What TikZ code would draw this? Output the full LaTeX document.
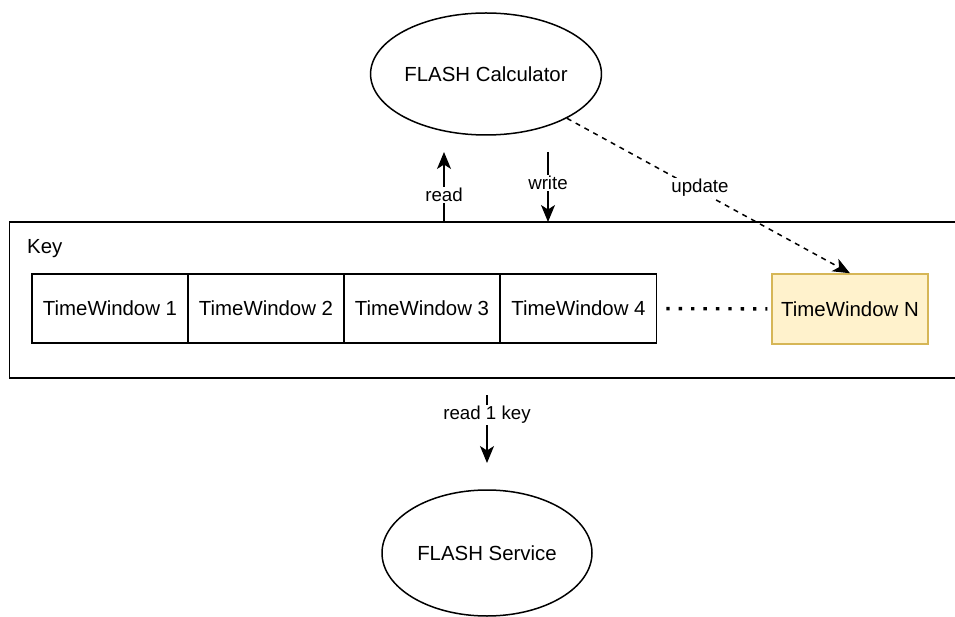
\documentclass[tikz,border=0pt]{standalone}
\usepackage{fontspec}
\setmainfont{Liberation Sans}
\usetikzlibrary{shapes.geometric,arrows.meta}
\definecolor{twfill}{HTML}{FFF2CC}
\definecolor{twline}{HTML}{D6B656}
\begin{document}
\begin{tikzpicture}[x=1pt,y=-1pt,
  every node/.style={font=\fontsize{20.4}{24}\selectfont, text=black},
  ln/.style={line width=1.5pt},
  cell/.style={draw, ln, minimum width=156pt, minimum height=69pt, inner sep=0pt},
  oval/.style={draw, ln, ellipse, inner sep=0pt},
  arr/.style={ln, -{Stealth[length=17pt,width=14pt,inset=4.5pt]}},
  lbl/.style={fill=white, font=\fontsize{18.7}{22}\selectfont, inner sep=1.5pt},
  dotline/.style={line width=3.4pt, line cap=butt, dash pattern=on 3.4pt off 9pt}
]
\clip (0,0) rectangle (955,617);
% ellipses
\node[oval, minimum width=225pt, minimum height=122pt] (calc) at (486,74) {FLASH Calculator};
\node[oval, minimum width=210pt, minimum height=126pt] (svc) at (487,553) {FLASH Service};
% key container
\node[draw, ln, minimum width=965pt, minimum height=156pt, inner sep=0pt] (keybox) at (492,300) {};
\node[anchor=west, inner sep=0pt] (keylbl) at (27,249) {Key};
% time windows
\node[cell] (tw1) at (110,308.5) {TimeWindow 1};
\node[cell] (tw2) at (266,308.5) {TimeWindow 2};
\node[cell] (tw3) at (422,308.5) {TimeWindow 3};
\node[cell] (tw4) at (578.5,308.5) {TimeWindow 4};
\node[cell, fill=twfill, draw=twline, minimum height=70pt] (twN) at (850,309) {TimeWindow N};
\draw[dotline, shorten <=9pt, shorten >=4pt] (tw4) -- (twN);
% connectors
\coordinate (readbot) at (444,222);
\coordinate (readtop) at (444,152);
\coordinate (writetop) at (548,152);
\coordinate (writebot) at (548,222);
\coordinate (keyout) at (487,395);
\coordinate (svcin) at (487,463);
\draw[arr] (readbot) -- node[lbl, pos=0.386] {read} (readtop);
\draw[arr] (writetop) -- node[lbl, pos=0.443] {write} (writebot);
\draw[arr, dash pattern=on 5pt off 5pt] (calc) -- node[lbl, pos=0.47, yshift=3pt] {update} (twN.north);
\draw[arr] (keyout) -- node[lbl, pos=0.294] {read 1 key} (svcin);
\end{tikzpicture}
\end{document}
